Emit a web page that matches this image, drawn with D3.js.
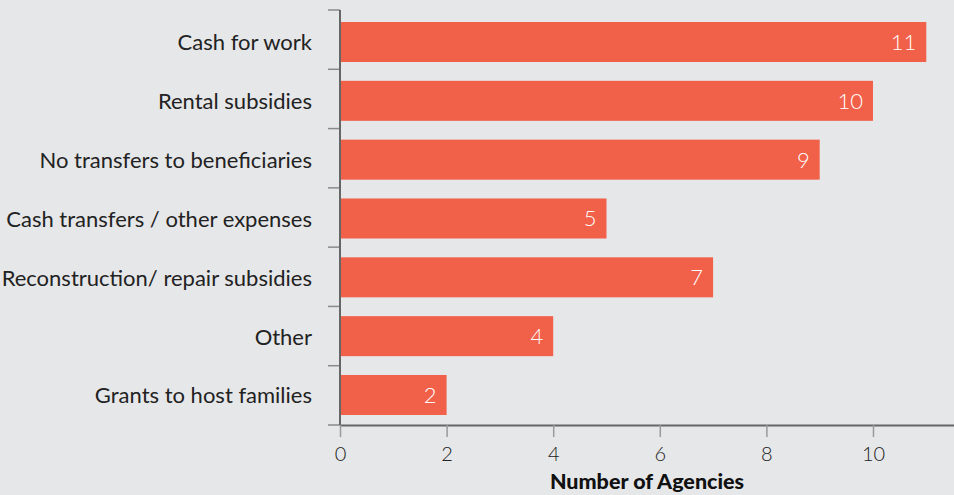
<!DOCTYPE html>
<html>
<head>
<meta charset="utf-8">
<script src="https://cdn.jsdelivr.net/npm/d3@7"></script>
<style>
  html, body { margin: 0; padding: 0; background: #e6e7e9; }
  svg { display: block; }
</style>
</head>
<body>
<svg id="chart" width="954" height="495"></svg>
<script>
// Funding mechanisms used by agencies
const categories = [
  "Cash for work",
  "Rental subsidies",
  "No transfers to beneficiaries",
  "Cash transfers / other expenses",
  "Reconstruction/ repair subsidies",
  "Other",
  "Grants to host families"
];
const agencies = [11, 10, 9, 5, 7, 4, 2];
const xTicks = [0, 2, 4, 6, 8, 10];
const xTitle = "Number of Agencies";

const W = 954, H = 495;
const plotLeft = 340, plotRight = 954, plotTop = 10, plotBottom = 425;
const barColor = "#f16049";
const fontFamily = "Lato, 'Open Sans', sans-serif";

const svg = d3.select("#chart");
svg.append("rect").attr("width", W).attr("height", H).attr("fill", "#e6e7e9");

const x = d3.scaleLinear().domain([0, 11.52]).range([plotLeft, plotRight]);
const y = d3.scaleBand().domain(categories).range([plotTop, plotBottom])
  .paddingInner(0.32).paddingOuter(0.187).align(0.545);

// bars
svg.append("g").selectAll("rect")
  .data(categories)
  .join("rect")
  .attr("x", x(0))
  .attr("y", d => y(d))
  .attr("width", (d, i) => x(agencies[i]) - x(0))
  .attr("height", y.bandwidth())
  .attr("fill", barColor);

// value labels inside the bar ends
svg.append("g").selectAll("text")
  .data(categories)
  .join("text")
  .attr("x", (d, i) => x(agencies[i]) - 10)
  .attr("y", d => y(d) + y.bandwidth() / 2)
  .attr("dy", "0.36em")
  .attr("text-anchor", "end")
  .attr("fill", "#ffffff")
  .attr("font-family", fontFamily)
  .attr("font-weight", 300)
  .attr("font-size", 22)
  .text((d, i) => agencies[i]);

// category labels
svg.append("g").selectAll("text")
  .data(categories)
  .join("text")
  .attr("x", 312)
  .attr("y", d => y(d) + y.bandwidth() / 2)
  .attr("dy", "0.38em")
  .attr("text-anchor", "end")
  .attr("fill", "#222222")
  .attr("font-family", fontFamily)
  .attr("font-weight", 400)
  .attr("font-size", 22)
  .text(d => d);

// y axis: line with ticks on category boundaries
const boundaries = d3.range(categories.length + 1)
  .map(i => plotTop + i * (plotBottom - plotTop) / categories.length);
svg.append("g").selectAll("line")
  .data(boundaries)
  .join("line")
  .attr("x1", plotLeft - 12).attr("x2", plotLeft)
  .attr("y1", d => d).attr("y2", d => d)
  .attr("stroke", "#8a8a8a").attr("stroke-width", 1.5);
svg.append("line")
  .attr("x1", plotLeft).attr("x2", plotLeft)
  .attr("y1", plotTop).attr("y2", plotBottom)
  .attr("stroke", "#666666").attr("stroke-width", 2);

// x axis
const xAxis = svg.append("g")
  .attr("transform", `translate(0,${plotBottom})`)
  .call(d3.axisBottom(x).tickValues(xTicks).tickSize(12).tickPadding(10).tickSizeOuter(0));
xAxis.select(".domain").attr("stroke", "#666666").attr("stroke-width", 2);
xAxis.selectAll(".tick line").attr("stroke", "#9a9a9a").attr("stroke-width", 1.5);
xAxis.selectAll(".tick text")
  .attr("fill", "#222222")
  .attr("font-family", fontFamily)
  .attr("font-weight", 300)
  .attr("font-size", 20);

svg.append("text")
  .attr("x", (plotLeft + plotRight) / 2)
  .attr("y", 489)
  .attr("text-anchor", "middle")
  .attr("fill", "#111111")
  .attr("font-family", fontFamily)
  .attr("font-weight", 900)
  .attr("font-size", 21.5)
  .text(xTitle);
</script>
</body>
</html>
